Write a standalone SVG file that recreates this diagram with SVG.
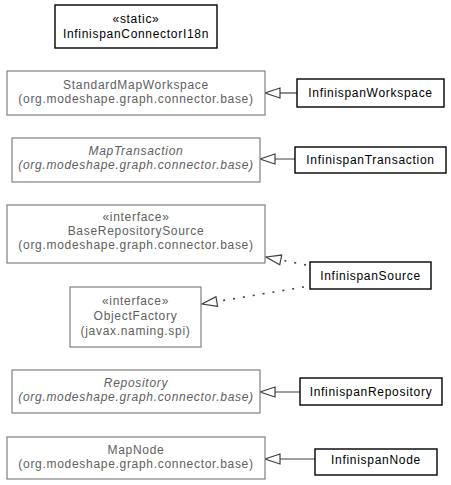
<svg xmlns="http://www.w3.org/2000/svg" width="451" height="485" viewBox="0 0 451 485">
<style>
text{font-family:"Liberation Sans",Arial,sans-serif;font-size:12px;letter-spacing:0.7px;text-anchor:middle}
.g rect{fill:#fff;stroke:#808080;stroke-width:1.2}
.g text{fill:#606060}
.b rect{fill:#fff;stroke:#000;stroke-width:1.4}
.b text{fill:#000}
.i{font-style:italic}
.e{fill:none;stroke:#404040;stroke-width:1.2}
.d{stroke-dasharray:2 8;stroke-width:1.6}
</style>
<defs>
<marker id="tri" markerUnits="userSpaceOnUse" markerWidth="18" markerHeight="14" refX="15" refY="6" orient="auto" overflow="visible">
<path d="M0,1 L15,6 L0,11 Z" fill="#fff" stroke="#404040" stroke-width="1.2" stroke-dasharray="none"/>
</marker>
</defs>
<g id="connectors">
<path class="e" d="M297,93 H265" marker-end="url(#tri)"/>
<path class="e" d="M295,159 H260" marker-end="url(#tri)"/>
<path class="e d" d="M306,265 L266,257" marker-end="url(#tri)"/>
<path class="e d" d="M304,287 L202,304" marker-end="url(#tri)"/>
<path class="e" d="M300,392 H260" marker-end="url(#tri)"/>
<path class="e" d="M315,459 H265" marker-end="url(#tri)"/>
</g>
<g id="InfinispanConnectorI18n" class="b">
<rect x="55" y="5" width="162" height="43"/>
<text x="136" y="23">«static»</text>
<text x="136" y="37.5">InfinispanConnectorI18n</text>
</g>
<g id="StandardMapWorkspace" class="g">
<rect x="7" y="71" width="258" height="44"/>
<text x="136" y="89">StandardMapWorkspace</text>
<text x="136" y="103">(org.modeshape.graph.connector.base)</text>
</g>
<g id="InfinispanWorkspace" class="b">
<rect x="297" y="79" width="147" height="28"/>
<text x="370.5" y="97">InfinispanWorkspace</text>
</g>
<g id="MapTransaction" class="g">
<rect x="12" y="138" width="248" height="44"/>
<text class="i" x="136" y="155">MapTransaction</text>
<text class="i" x="136" y="169">(org.modeshape.graph.connector.base)</text>
</g>
<g id="InfinispanTransaction" class="b">
<rect x="295" y="147" width="151" height="26"/>
<text x="370.5" y="164">InfinispanTransaction</text>
</g>
<g id="BaseRepositorySource" class="g">
<rect x="7" y="205" width="258" height="58"/>
<text x="136" y="220.5">«interface»</text>
<text x="136" y="235">BaseRepositorySource</text>
<text x="136" y="249">(org.modeshape.graph.connector.base)</text>
</g>
<g id="InfinispanSource" class="b">
<rect x="310" y="262" width="121" height="27"/>
<text x="370.5" y="280">InfinispanSource</text>
</g>
<g id="ObjectFactory" class="g">
<rect x="70" y="287" width="131" height="60"/>
<text x="135.5" y="305">«interface»</text>
<text x="135.5" y="320">ObjectFactory</text>
<text x="135.5" y="334.5">(javax.naming.spi)</text>
</g>
<g id="Repository" class="g">
<rect x="12" y="370" width="248" height="43"/>
<text class="i" x="136" y="386.5">Repository</text>
<text class="i" x="136" y="401">(org.modeshape.graph.connector.base)</text>
</g>
<g id="InfinispanRepository" class="b">
<rect x="300" y="378" width="142" height="27"/>
<text x="371" y="396">InfinispanRepository</text>
</g>
<g id="MapNode" class="g">
<rect x="7" y="437" width="258" height="42"/>
<text x="136" y="454">MapNode</text>
<text x="136" y="468">(org.modeshape.graph.connector.base)</text>
</g>
<g id="InfinispanNode" class="b">
<rect x="315" y="449" width="122" height="26"/>
<text x="376" y="464">InfinispanNode</text>
</g>
</svg>
